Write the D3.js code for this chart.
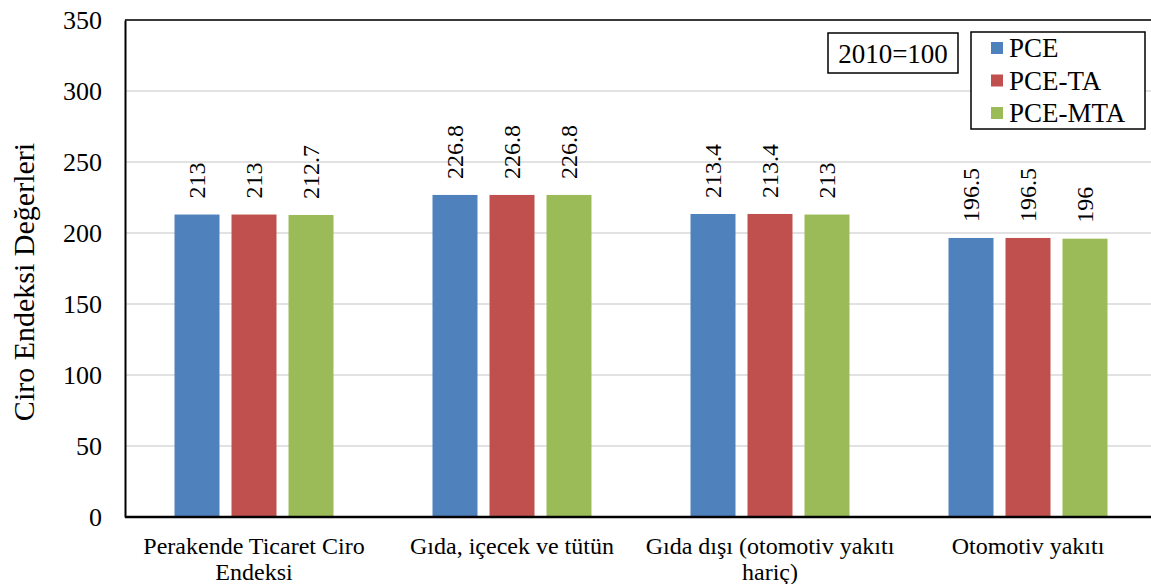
<!DOCTYPE html>
<html>
<head>
<meta charset="utf-8">
<script src="https://cdn.jsdelivr.net/npm/d3@7"></script>
<style>
body { margin: 0; background: #fff; }
text { font-family: "Liberation Serif", "DejaVu Serif", serif; fill: #000; }
</style>
</head>
<body>
<script>
var categories = [["Perakende Ticaret Ciro", "Endeksi"], ["Gıda, içecek ve tütün"], ["Gıda dışı (otomotiv yakıtı", "hariç)"], ["Otomotiv yakıtı"]]
var seriesNames = ["PCE", "PCE-TA", "PCE-MTA"]
var pce = [213, 226.8, 213.4, 196.5]
var pceTa = [213, 226.8, 213.4, 196.5]
var pceMta = [212.7, 226.8, 213, 196]
var yTicks = [0, 50, 100, 150, 200, 250, 300, 350]
var colors = ["#4f81bd", "#c0504d", "#9bbb59"]
var seriesValues = [pce, pceTa, pceMta]

var width = 1151
var height = 584
var plotLeft = 125, plotRight = 1157, plotTop = 20, plotBottom = 517

var svg = d3.select("body")
.append("svg")
.attr("width", width)
.attr("height", height)

var groupScale = d3.scaleBand().domain(d3.range(categories.length)).range([plotLeft, plotRight])
var barScale = d3.scaleBand().domain(seriesNames).range([49.5, 208.5]).paddingInner(0.2105)
var yScale = d3.scaleLinear().domain([0, 350]).range([plotBottom, plotTop])

// gridlines
svg.selectAll(".grid")
	.data(yTicks.slice(1))
	.enter()
	.append("line")
	.attr("x1", plotLeft)
	.attr("x2", width)
	.attr("y1", d => yScale(d))
	.attr("y2", d => yScale(d))
	.attr("stroke", "#d9d9d9")
	.attr("stroke-width", 1.5)

// top frame
svg.append("line")
	.attr("x1", plotLeft).attr("x2", width)
	.attr("y1", plotTop).attr("y2", plotTop)
	.attr("stroke", "#000").attr("stroke-width", 1.5)

// bars and labels
seriesValues.forEach(function(vals, s) {
	var name = seriesNames[s]
	svg.selectAll(".bar" + s)
		.data(vals)
		.enter()
		.append("rect")
		.attr("x", (d, i) => groupScale(i) + barScale(name))
		.attr("width", barScale.bandwidth())
		.attr("y", d => yScale(d))
		.attr("height", d => plotBottom - yScale(d))
		.attr("fill", colors[s])

	svg.selectAll(".lab" + s)
		.data(vals)
		.enter()
		.append("text")
		.attr("transform", (d, i) => "translate(" + (groupScale(i) + barScale(name) + barScale.bandwidth() / 2 + 8) + "," + (yScale(d) - 16) + ") rotate(-90)")
		.attr("font-size", 24)
		.text(d => d)
})

// axes
var yAxis = d3.axisLeft(yScale).tickValues(yTicks).tickSize(0).tickPadding(23)
var gy = svg.append("g").attr("transform", "translate(" + plotLeft + ",0)").call(yAxis)
gy.select(".domain").attr("stroke", "#000").attr("stroke-width", 2)
gy.selectAll("text").attr("font-size", 26).attr("font-family", "Liberation Serif")

svg.append("line")
	.attr("x1", plotLeft).attr("x2", width)
	.attr("y1", plotBottom).attr("y2", plotBottom)
	.attr("stroke", "#000").attr("stroke-width", 2.5)

// category labels
categories.forEach(function(lines, i) {
	var t = svg.append("text")
		.attr("text-anchor", "middle")
		.attr("font-size", 24)
		.attr("y", 554)
	lines.forEach(function(l, k) {
		t.append("tspan")
			.attr("x", groupScale(i) + groupScale.bandwidth() / 2)
			.attr("dy", k == 0 ? 0 : 26)
			.text(l)
	})
})

// y title
svg.append("text")
	.attr("transform", "translate(34,282) rotate(-90)")
	.attr("text-anchor", "middle")
	.attr("font-size", 30)
	.text("Ciro Endeksi Değerleri")

// base note
svg.append("rect")
	.attr("x", 828).attr("y", 33).attr("width", 130).attr("height", 40)
	.attr("fill", "#fff").attr("stroke", "#000").attr("stroke-width", 1.5)
svg.append("text")
	.attr("x", 893).attr("y", 63)
	.attr("text-anchor", "middle")
	.attr("font-size", 27)
	.text("2010=100")

// legend
var legend = svg.append("g").attr("transform", "translate(971,32)")
legend.append("rect")
	.attr("width", 174).attr("height", 97)
	.attr("fill", "#fff").attr("stroke", "#000").attr("stroke-width", 1.5)
var item = legend.selectAll(".item")
	.data(seriesNames)
	.enter()
	.append("g")
	.attr("transform", (d, i) => "translate(20," + (16 + i * 32.5) + ")")
item.append("rect")
	.attr("y", -6).attr("width", 12).attr("height", 12)
	.attr("fill", (d, i) => colors[i])
item.append("text")
	.attr("x", 18).attr("y", 9)
	.attr("font-size", 27)
	.text(d => d)
</script>
</body>
</html>
